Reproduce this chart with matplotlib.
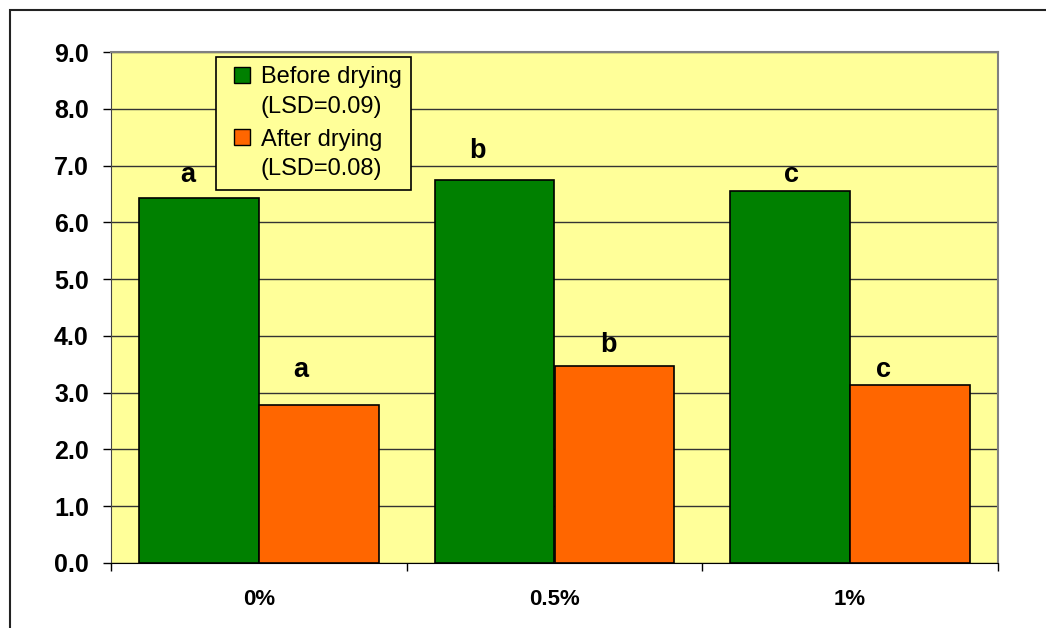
import matplotlib.pyplot as plt
import numpy as np
from matplotlib.patches import Rectangle
from matplotlib.legend_handler import HandlerPatch

plt.rcParams['font.family'] = ['Liberation Sans', 'DejaVu Sans']

# concentrations and measured values
groups = ['0%', '0.5%', '1%']
before = [6.43, 6.74, 6.55]
after = [2.78, 3.47, 3.13]
before_letters = ['a', 'b', 'c']
after_letters = ['a', 'b', 'c']
legend_labels = ['Before drying\n(LSD=0.09)', 'After drying\n(LSD=0.08)']

# label nudges in points (dx, dy) from the top centre of each bar
before_offsets = [(-8, 7), (-12.5, 12), (1, 2)]
after_offsets = [(-13, 16), (-4, 6), (-19, 2)]

fig = plt.figure(figsize=(10.46, 6.28), dpi=100)
ax = fig.add_axes([111/1046, 1 - 563/628, 887/1046, 511/628])

# outer chart frame (only top and left edges fall inside the image)
fig.patches.append(Rectangle((10/1046, -0.1), 1.2, 1 - 10/628 + 0.1,
                             transform=fig.transFigure, fill=False,
                             edgecolor='#222222', lw=1.5))

x = np.arange(len(groups))
w = 0.405
b1 = ax.bar(x - w/2, before, w, color='#008000', edgecolor='black', lw=1.2,
            zorder=3)
b2 = ax.bar(x + w/2, after, w, color='#FF6600', edgecolor='black', lw=1.2,
            zorder=3)

for bars, letters, offs in [(b1, before_letters, before_offsets),
                            (b2, after_letters, after_offsets)]:
    for r, t, (dx, dy) in zip(bars, letters, offs):
        ax.annotate(t, (r.get_x() + r.get_width()/2, r.get_height()),
                    xytext=(dx, dy), textcoords='offset points',
                    ha='center', va='bottom', fontsize=19.5, fontweight='bold')

ax.set_facecolor('#FFFF99')
ax.set_xlim(-0.5, 2.5)
ax.set_ylim(0, 9)
ax.set_yticks(np.arange(0, 9.1, 1))
ax.set_yticklabels([f'{v:.1f}' for v in np.arange(0, 9.1, 1)],
                   fontsize=18, fontweight='bold')
ax.yaxis.grid(True, color='#333333', lw=1, zorder=0)
ax.set_axisbelow(True)

ax.set_xticks([-0.5, 0.5, 1.5, 2.5])
ax.set_xticklabels([])
ax.set_xticks(x, minor=True)
ax.set_xticklabels(groups, minor=True, fontsize=16, fontweight='bold')
ax.tick_params(axis='x', which='minor', length=0, pad=19)
ax.tick_params(axis='x', which='major', length=6, width=1, direction='out')
ax.tick_params(axis='y', length=6, width=1, direction='out', pad=10)

for s in ['top', 'right']:
    ax.spines[s].set_color('#808080')
    ax.spines[s].set_linewidth(1.5)
ax.spines['left'].set_color('#444444')
ax.spines['bottom'].set_color('black')


# small square next to the first line of a two-line legend label
def top_square(legend, orig_handle, xdescent, ydescent, width, height, fontsize):
    side = height
    return Rectangle((width - side - xdescent, -ydescent + 0.75 * fontsize),
                     side, side)


handles = [Rectangle((0, 0), 1, 1, facecolor='#008000', edgecolor='black'),
           Rectangle((0, 0), 1, 1, facecolor='#FF6600', edgecolor='black')]
leg = ax.legend(handles, legend_labels, loc='upper left',
                bbox_to_anchor=(216/1046, 1 - 57/628),
                bbox_transform=fig.transFigure, borderaxespad=0,
                fontsize=17, frameon=True, fancybox=False, framealpha=1,
                facecolor='#FFFF99', edgecolor='black',
                handlelength=1.05, handleheight=0.65, handletextpad=0.45,
                labelspacing=0.45, borderpad=0.4,
                handler_map={Rectangle: HandlerPatch(patch_func=top_square)})
for t in leg.get_texts():
    t.set_linespacing(1.45)
leg.get_frame().set_linewidth(1.2)
leg.set_zorder(5)

fig.savefig('out.png', dpi=100)
